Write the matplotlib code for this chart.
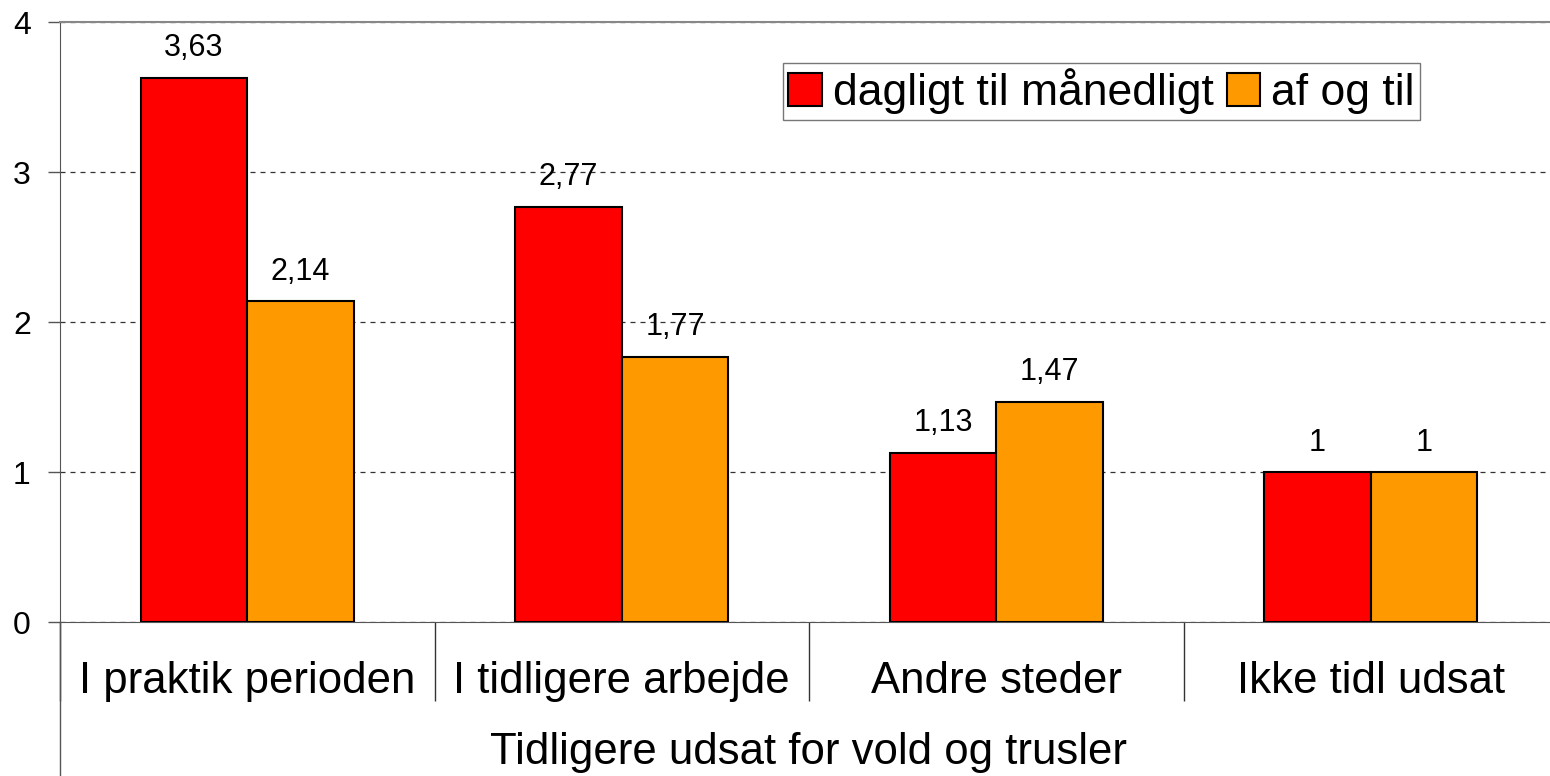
import matplotlib.pyplot as plt
import numpy as np

plt.rcParams['font.family'] = ['Liberation Sans', 'DejaVu Sans']

categories = ['I praktik perioden', 'I tidligere arbejde', 'Andre steder', 'Ikke tidl udsat']
daglig = [3.63, 2.77, 1.13, 1.00]
afogtil = [2.14, 1.77, 1.47, 1.00]
series_names = ['dagligt til månedligt', 'af og til']
xlabel = 'Tidligere udsat for vold og trusler'

W, H = 1550, 776
fig = plt.figure(figsize=(W / 100, H / 100), dpi=100)
ax = fig.add_axes([60 / W, (H - 622) / H, (1558 - 60) / W, 600 / H])

x = np.arange(len(categories))
bw = 0.285
b1 = ax.bar(x - bw / 2, daglig, bw, color='#ff0000', edgecolor='black', linewidth=1.5,
            label=series_names[0], zorder=3)
b2 = ax.bar(x + bw / 2, afogtil, bw, color='#ff9900', edgecolor='black', linewidth=1.5,
            label=series_names[1], zorder=3)

def fmt(v):
    if v == int(v):
        return str(int(v))
    return ('%.2f' % v).replace('.', ',')

for bars, vals in ((b1, daglig), (b2, afogtil)):
    for r, v in zip(bars, vals):
        ax.annotate(fmt(v), (r.get_x() + r.get_width() / 2, v), xytext=(0, 21),
                    textcoords='offset points', ha='center', va='center', fontsize=22)

ax.set_xlim(-0.5, len(categories) - 0.5)
ax.set_ylim(0, 4)
ax.set_yticks([0, 1, 2, 3, 4])
ax.tick_params(axis='y', direction='out', length=9, width=1, labelsize=23, pad=12, color='#555555')
ax.set_xticks(x)
ax.set_xticklabels(categories, fontsize=31.5)
ax.tick_params(axis='x', length=0, pad=28)
ax.set_xlabel(xlabel, fontsize=31.5, labelpad=19)

# separators between the categories below the axis
ax.set_xticks(np.arange(len(categories) + 1) - 0.5, minor=True)
ax.tick_params(axis='x', which='minor', direction='out', length=57, width=1, color='#333333')

ax.grid(axis='y', linestyle=(0, (4, 4)), color='#333333', linewidth=0.9, zorder=0)
ax.spines['right'].set_visible(False)
ax.spines['top'].set_color('#888888')
ax.spines['top'].set_linewidth(1.5)
ax.spines['left'].set_color('#555555')
ax.spines['bottom'].set_color('#555555')
ax.plot([0, 0], [0, -0.3], transform=ax.transAxes, color='#555555', linewidth=1, clip_on=False)

leg = ax.legend(loc='upper left', bbox_to_anchor=((783 - 60) / 1498, (622 - 63) / 600), ncol=2,
                fontsize=32, frameon=True, fancybox=False, edgecolor='#555555',
                handlelength=0.75, handleheight=0.75, handletextpad=0.25, columnspacing=0.3,
                borderpad=0.12, borderaxespad=0)
leg.get_frame().set_linewidth(1)

fig.savefig('out.png', dpi=100)
